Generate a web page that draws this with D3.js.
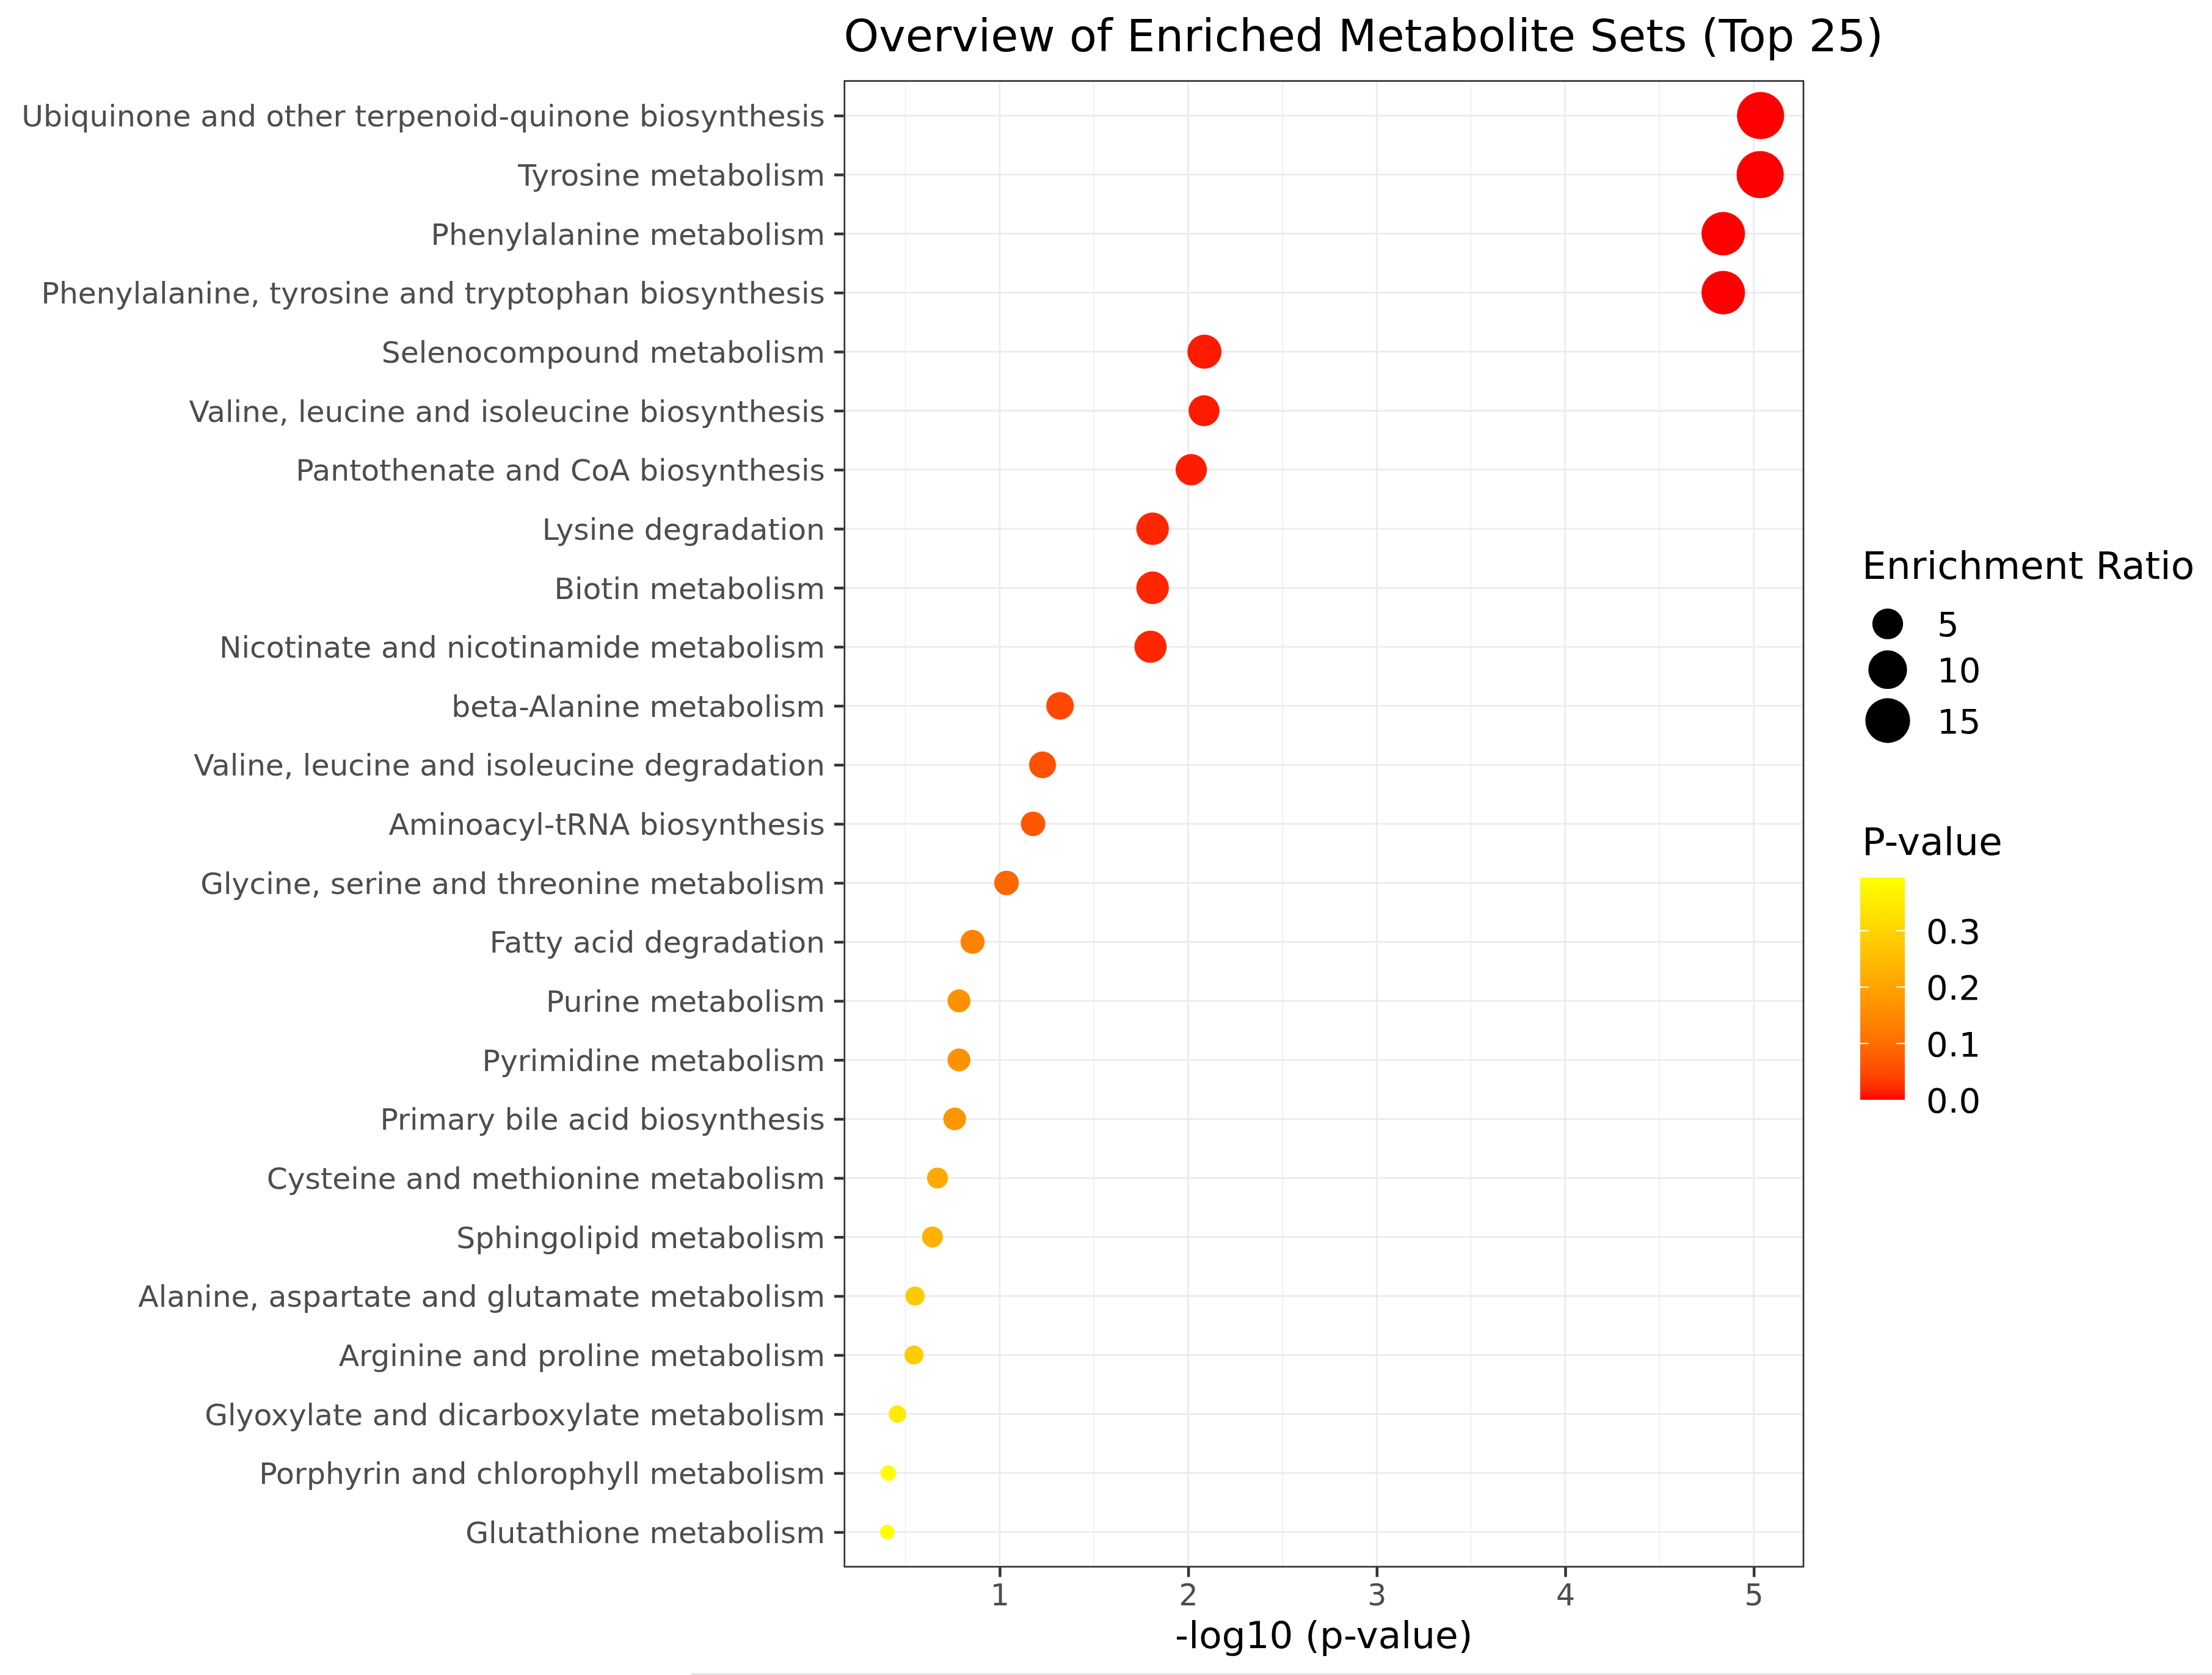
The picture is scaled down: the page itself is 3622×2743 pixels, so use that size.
<!DOCTYPE html>
<html>
<head>
<meta charset="utf-8">
<script src="https://cdn.jsdelivr.net/npm/d3@7/dist/d3.min.js"></script>
<style>
  html, body { margin: 0; padding: 0; background: #ffffff; }
  svg { display: block; font-family: "DejaVu Sans", sans-serif; }
</style>
</head>
<body>
<svg id="chart" width="3622" height="2743"></svg>
<script>
// ---------------- data ----------------
const pathways = [
  "Ubiquinone and other terpenoid-quinone biosynthesis",
  "Tyrosine metabolism",
  "Phenylalanine metabolism",
  "Phenylalanine, tyrosine and tryptophan biosynthesis",
  "Selenocompound metabolism",
  "Valine, leucine and isoleucine biosynthesis",
  "Pantothenate and CoA biosynthesis",
  "Lysine degradation",
  "Biotin metabolism",
  "Nicotinate and nicotinamide metabolism",
  "beta-Alanine metabolism",
  "Valine, leucine and isoleucine degradation",
  "Aminoacyl-tRNA biosynthesis",
  "Glycine, serine and threonine metabolism",
  "Fatty acid degradation",
  "Purine metabolism",
  "Pyrimidine metabolism",
  "Primary bile acid biosynthesis",
  "Cysteine and methionine metabolism",
  "Sphingolipid metabolism",
  "Alanine, aspartate and glutamate metabolism",
  "Arginine and proline metabolism",
  "Glyoxylate and dicarboxylate metabolism",
  "Porphyrin and chlorophyll metabolism",
  "Glutathione metabolism"
];
// -log10(p-value) read from the x positions
const negLog10P = [5.036, 5.034, 4.838, 4.838, 2.086, 2.084, 2.016, 1.811, 1.811, 1.800,
                   1.320, 1.227, 1.177, 1.036, 0.856, 0.784, 0.784, 0.761, 0.670, 0.643,
                   0.551, 0.545, 0.457, 0.409, 0.404];
const enrichmentRatio = [17.3, 17.3, 13.9, 13.9, 6.9, 5.1, 5.3, 6.0, 6.0, 5.8,
                         3.5, 3.2, 2.3, 2.3, 2.1, 1.75, 1.75, 1.7, 1.2, 1.2,
                         0.8, 0.75, 0.45, 0.2, 0.12];
const xTickValues = [1, 2, 3, 4, 5];
const sizeLegendValues = [5, 10, 15];
const colorLegendValues = [0.0, 0.1, 0.2, 0.3];

const titleText = "Overview of Enriched Metabolite Sets (Top 25)";
const xTitle = "-log10 (p-value)";
const sizeTitle = "Enrichment Ratio";
const colorTitle = "P-value";

const rows = pathways.map((name, i) => ({
  name, x: negLog10P[i], p: Math.pow(10, -negLog10P[i]), er: enrichmentRatio[i]
}));

// ---------------- layout ----------------
const panel = { left: 1381.5, right: 2954.3, top: 131.3, bottom: 2567 };
const svg = d3.select("#chart");

const [xmin, xmax] = d3.extent(negLog10P);
const xpad = (xmax - xmin) * 0.05;
const x = d3.scaleLinear().domain([xmin - xpad, xmax + xpad]).range([panel.left, panel.right]);
const y = d3.scalePoint().domain(pathways).range([panel.top, panel.bottom]).padding(0.6);
const r = d3.scaleSqrt().domain([0, 16]).range([9.45, 37.55]);
const pExtent = d3.extent(rows, d => d.p);
const color = d3.scaleLinear().domain(pExtent).range(["#ff0000", "#ffff00"]).interpolate(d3.interpolateLab);

// background
svg.append("rect").attr("width", 3622).attr("height", 2743).attr("fill", "#ffffff");
// faint bottom edge line seen in the reference
svg.append("rect").attr("x", 1132).attr("y", 2740).attr("width", 2490).attr("height", 3).attr("fill", "#e4e4e4");

// grid
const grid = svg.append("g");
const majors = x.ticks(5);
const step = majors[1] - majors[0];
const minors = [];
for (let v = Math.floor(x.domain()[0]) + step / 2; v < x.domain()[1]; v += step) {
  if (v > x.domain()[0]) minors.push(v);
}
grid.selectAll(".minor").data(minors).join("line")
  .attr("x1", d => x(d)).attr("x2", d => x(d))
  .attr("y1", panel.top).attr("y2", panel.bottom)
  .attr("stroke", "#ebebeb").attr("stroke-width", 1.4);
grid.selectAll(".major").data(majors).join("line")
  .attr("x1", d => x(d)).attr("x2", d => x(d))
  .attr("y1", panel.top).attr("y2", panel.bottom)
  .attr("stroke", "#ebebeb").attr("stroke-width", 2.7);
grid.selectAll(".hmajor").data(pathways).join("line")
  .attr("x1", panel.left).attr("x2", panel.right)
  .attr("y1", d => y(d)).attr("y2", d => y(d))
  .attr("stroke", "#ebebeb").attr("stroke-width", 2.7);

// points
svg.append("g").selectAll("circle").data(rows).join("circle")
  .attr("cx", d => x(d.x)).attr("cy", d => y(d.name))
  .attr("r", d => r(d.er))
  .attr("fill", d => color(d.p));

// panel border
svg.append("rect")
  .attr("x", panel.left + 1.3).attr("y", panel.top + 1.3)
  .attr("width", panel.right - panel.left - 2.6).attr("height", panel.bottom - panel.top - 2.6)
  .attr("fill", "none").attr("stroke", "#333333").attr("stroke-width", 2.7);

// y axis
const yAxis = svg.append("g").attr("transform", `translate(${panel.left},0)`)
  .call(d3.axisLeft(y).tickSize(15.5).tickPadding(15));
yAxis.select(".domain").remove();
yAxis.selectAll(".tick line").attr("stroke", "#333333").attr("stroke-width", 4.5);
yAxis.selectAll(".tick text")
  .attr("font-family", "DejaVu Sans").attr("font-size", 48.8).attr("fill", "#4d4d4d")
  .attr("dy", null).attr("dominant-baseline", null).attr("y", 17.5);

// x axis
const xAxis = svg.append("g").attr("transform", `translate(0,${panel.bottom})`)
  .call(d3.axisBottom(x).tickValues(xTickValues).tickFormat(d3.format("d")).tickSize(15.5).tickPadding(0));
xAxis.select(".domain").remove();
xAxis.selectAll(".tick line").attr("stroke", "#333333").attr("stroke-width", 4.5);
xAxis.selectAll(".tick text")
  .attr("font-family", "DejaVu Sans").attr("font-size", 49).attr("fill", "#4d4d4d")
  .attr("dy", null).attr("y", 62);

// titles
svg.append("text").attr("x", panel.left).attr("y", 83.5)
  .attr("font-size", 73.5).attr("fill", "#000").text(titleText);
svg.append("text").attr("x", (panel.left + panel.right) / 2).attr("y", 2699)
  .attr("text-anchor", "middle").attr("font-size", 61.3).attr("fill", "#000").text(xTitle);

// size legend
const lg = svg.append("g");
lg.append("text").attr("x", 3049).attr("y", 948).attr("font-size", 63).attr("fill", "#000").text(sizeTitle);
const sizeKeyY = [1021.7, 1096.7, 1180];
lg.selectAll(".sk").data(sizeLegendValues).join("circle")
  .attr("cx", 3091).attr("cy", (d, i) => sizeKeyY[i]).attr("r", d => r(d)).attr("fill", "#000");
lg.selectAll(".sl").data(sizeLegendValues).join("text")
  .attr("x", 3172).attr("y", (d, i) => sizeKeyY[i] + 20.5)
  .attr("font-size", 56).attr("fill", "#000").text(d => d);

// color legend
lg.append("text").attr("x", 3049).attr("y", 1400).attr("font-size", 63).attr("fill", "#000").text(colorTitle);
const bar = { x: 3046, w: 73, top: 1437, bottom: 1801 };
const cy = d3.scaleLinear().domain([0, pExtent[1]]).range([bar.bottom, bar.top]);
const defs = svg.append("defs");
const grad = defs.append("linearGradient").attr("id", "pgrad")
  .attr("x1", 0).attr("y1", 1).attr("x2", 0).attr("y2", 0);
d3.range(0, 1.0001, 0.05).forEach(t => {
  grad.append("stop").attr("offset", t).attr("stop-color", color(pExtent[0] + t * (pExtent[1] - pExtent[0])));
});
lg.append("rect").attr("x", bar.x).attr("y", bar.top).attr("width", bar.w).attr("height", bar.bottom - bar.top)
  .attr("fill", "url(#pgrad)");
colorLegendValues.forEach(v => {
  const yy = cy(v);
  if (v > 0) {
    lg.append("line").attr("x1", bar.x).attr("x2", bar.x + 14).attr("y1", yy).attr("y2", yy)
      .attr("stroke", "#ffffff").attr("stroke-width", 2);
    lg.append("line").attr("x1", bar.x + bar.w - 14).attr("x2", bar.x + bar.w).attr("y1", yy).attr("y2", yy)
      .attr("stroke", "#ffffff").attr("stroke-width", 2);
  }
  lg.append("text").attr("x", 3154).attr("y", yy + 21).attr("font-size", 56).attr("fill", "#000")
    .text(d3.format(".1f")(v));
});
</script>
</body>
</html>
